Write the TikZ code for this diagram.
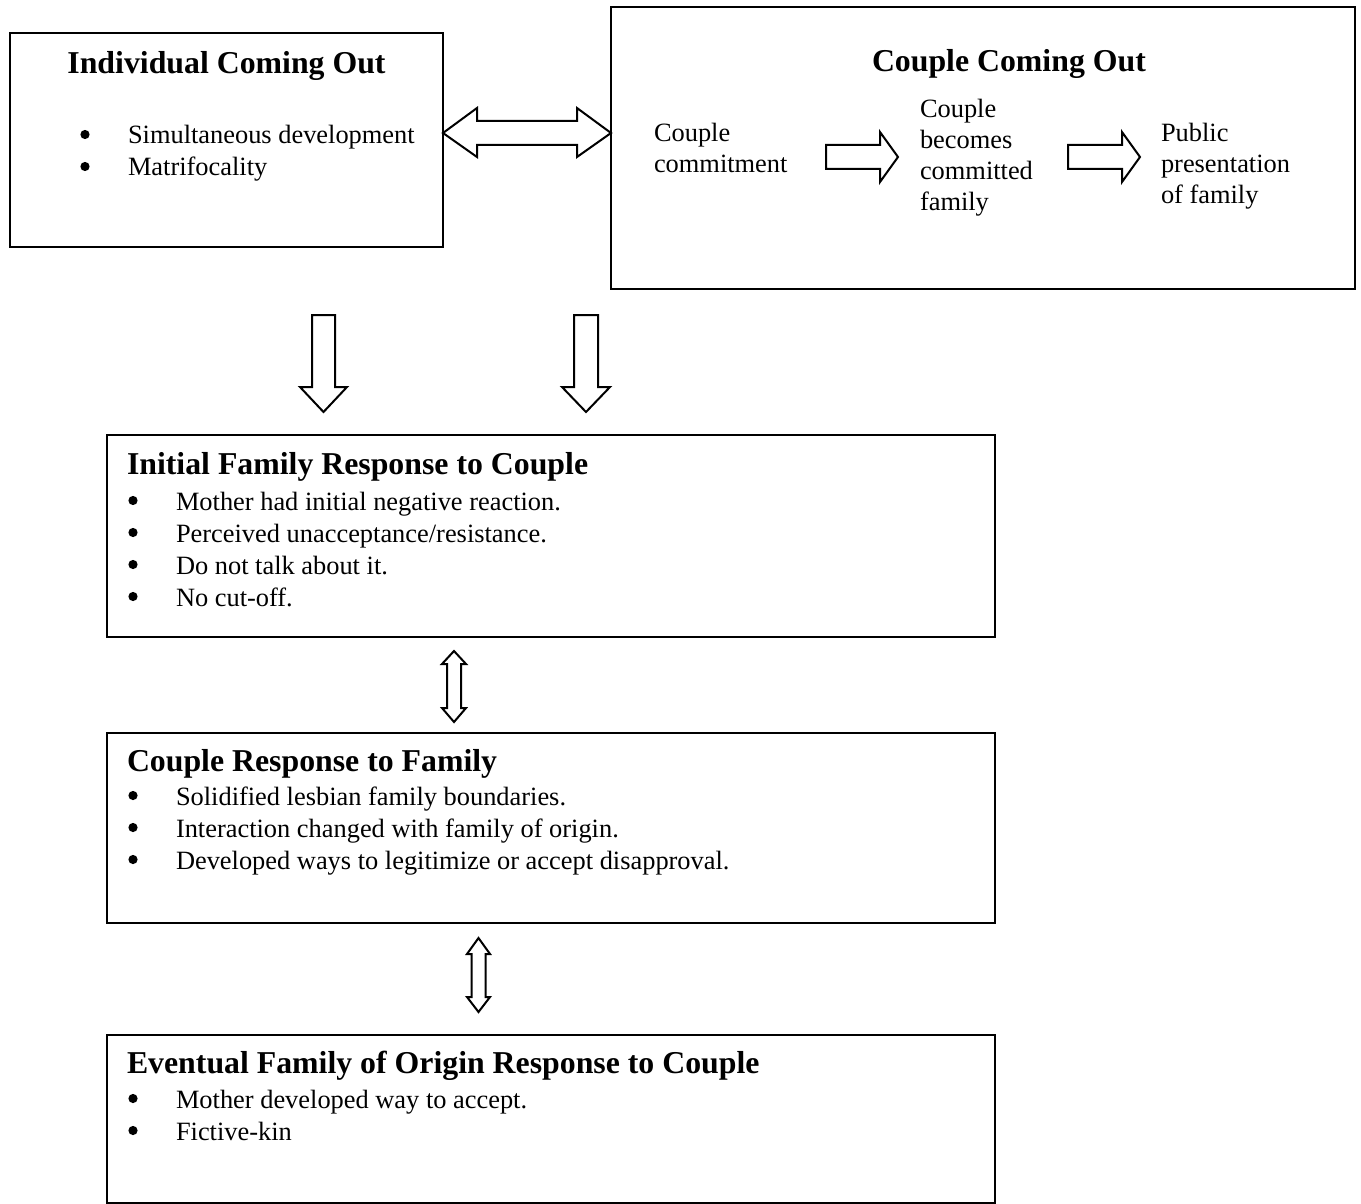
\documentclass[tikz,border=0pt]{standalone}
\usepackage{fontspec}
\setmainfont{Liberation Serif}
\newcommand{\bodyfont}{\fontsize{26.4}{32}\selectfont}
\newcommand{\colfont}{\fontsize{26.4}{31}\selectfont}
\newcommand{\titlefont}{\fontsize{31.8}{38}\selectfont\bfseries}
\tikzset{
  box/.style={draw=black, line width=2pt, rectangle, inner sep=0pt, fill=none},
  txt/.style={anchor=base west, inner sep=0pt, outer sep=0pt, font=\bodyfont},
  coltxt/.style={anchor=base west, inner sep=0pt, outer sep=0pt, font=\colfont},
  ttl/.style={anchor=base west, inner sep=0pt, outer sep=0pt, font=\titlefont},
  blockarrow/.style={draw=black, line width=2pt, fill=white, line join=miter},
  dot/.style={fill=black}
}
\begin{document}
\begin{tikzpicture}[x=1pt, y=-1pt]
\useasboundingbox (0,0) rectangle (1361,1204);

% boxes
\node[box, minimum width=433pt, minimum height=214pt] (b1) at (226.5,140) {};
\node[box, minimum width=744pt, minimum height=282pt] (b2) at (983,148) {};
\node[box, minimum width=888pt, minimum height=202pt] (b3) at (551,536) {};
\node[box, minimum width=888pt, minimum height=190pt] (b4) at (551,828) {};
\node[box, minimum width=888pt, minimum height=168pt] (b5) at (551,1119) {};

% box 1
\node[ttl, anchor=base] (t1) at (226.5,74) {Individual Coming Out};
\node[txt] (l1) at (128,144) {\begin{tabular}[t]{@{}l@{}}
Simultaneous development\\
Matrifocality
\end{tabular}};
\foreach \yy in {144,176} \fill[dot] (85,\yy-9.5) circle (4.6pt);

% box 2
\node[ttl] (t2) at (872,72) {Couple Coming Out};
\node[coltxt] (c1) at (654,142) {\begin{tabular}[t]{@{}l@{}}Couple\\commitment\end{tabular}};
\node[coltxt] (c2) at (920,118) {\begin{tabular}[t]{@{}l@{}}Couple\\becomes\\committed\\family\end{tabular}};
\node[coltxt] (c3) at (1161,142) {\begin{tabular}[t]{@{}l@{}}Public\\presentation\\of family\end{tabular}};

% box 3
\node[ttl] (t3) at (127,474) {Initial Family Response to Couple};
\node[txt] (l3) at (176,510) {\begin{tabular}[t]{@{}l@{}}
Mother had initial negative reaction.\\
Perceived unacceptance/resistance.\\
Do not talk about it.\\
No cut-off.
\end{tabular}};
\foreach \yy in {510,542,574,606} \fill[dot] (133,\yy-9.5) circle (4.6pt);

% box 4
\node[ttl] (t4) at (127,771) {Couple Response to Family};
\node[txt] (l4) at (176,805) {\begin{tabular}[t]{@{}l@{}}
Solidified lesbian family boundaries.\\
Interaction changed with family of origin.\\
Developed ways to legitimize or accept disapproval.
\end{tabular}};
\foreach \yy in {805,837,869} \fill[dot] (133,\yy-9.5) circle (4.6pt);

% box 5
\node[ttl] (t5) at (127,1073) {Eventual Family of Origin Response to Couple};
\node[txt] (l5) at (176,1108) {\begin{tabular}[t]{@{}l@{}}
Mother developed way to accept.\\
Fictive-kin
\end{tabular}};
\foreach \yy in {1108,1140} \fill[dot] (133,\yy-9.5) circle (4.6pt);

% horizontal double arrow between b1 and b2
\draw[blockarrow] (443,133) -- (477,108) -- (477,121) -- (577,121) -- (577,108)
  -- (611,133) -- (577,157) -- (577,145) -- (477,145) -- (477,157) -- cycle;

% arrows inside b2
\draw[blockarrow] (826,145) -- (880,145) -- (880,132) -- (898,157) -- (880,182)
  -- (880,169) -- (826,169) -- cycle;
\draw[blockarrow] (1068,145) -- (1122,145) -- (1122,132) -- (1140,157) -- (1122,182)
  -- (1122,169) -- (1068,169) -- cycle;

% down arrows
\draw[blockarrow] (312,315) -- (335,315) -- (335,387) -- (347,387) -- (323.5,412)
  -- (300,387) -- (312,387) -- cycle;
\draw[blockarrow] (574,315) -- (598,315) -- (598,387) -- (610,387) -- (586,412)
  -- (562,387) -- (574,387) -- cycle;

% vertical double arrows
\draw[blockarrow] (454,651) -- (466,664) -- (461,664) -- (461,708) -- (466,708)
  -- (454,722) -- (442,708) -- (447,708) -- (447,664) -- (442,664) -- cycle;
\draw[blockarrow] (478.5,938) -- (490,954) -- (485.5,954) -- (485.5,997) -- (490,997)
  -- (478.5,1012) -- (467,997) -- (471.5,997) -- (471.5,954) -- (467,954) -- cycle;
\end{tikzpicture}
\end{document}
